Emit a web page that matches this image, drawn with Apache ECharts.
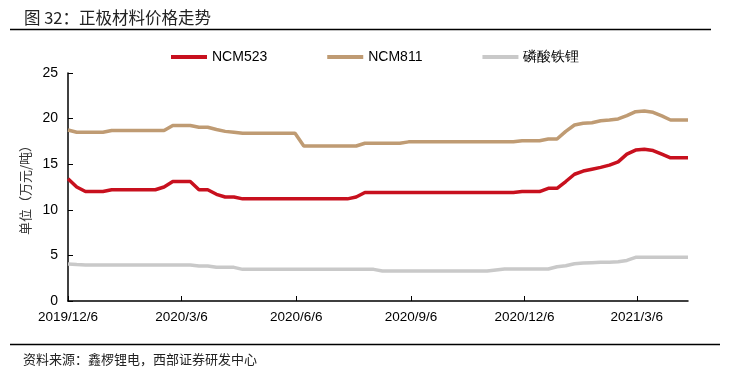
<!DOCTYPE html>
<html><head><meta charset="utf-8">
<script src="https://cdn.jsdelivr.net/npm/echarts@6/dist/echarts.min.js"></script>
<style>html,body{margin:0;padding:0;background:#fff}#c{width:735px;height:374px}</style>
</head><body><div id="c"></div>
<script>
// weekly dates from 2019/12/6, 72 points
const startDate = '2019/12/6';
const weekCount = 72;
const tickLabels = ['2019/12/6','2020/3/6','2020/6/6','2020/9/6','2020/12/6','2021/3/6'];
const seriesNames = ['NCM523','NCM811','磷酸铁锂'];
const ncm523 = [13.4,12.5,12.0,12.0,12.0,12.2,12.2,12.2,12.2,12.2,12.2,12.5,13.1,13.1,13.1,12.2,12.2,11.7,11.4,11.4,
  11.2,11.2,11.2,11.2,11.2,11.2,11.2,11.2,11.2,11.2,11.2,11.2,11.2,11.4,11.9,11.9,11.9,11.9,11.9,11.9,
  11.9,11.9,11.9,11.9,11.9,11.9,11.9,11.9,11.9,11.9,11.9,11.9,12.0,12.0,12.0,12.35,12.35,13.1,13.9,14.25,
  14.45,14.65,14.9,15.25,16.1,16.55,16.65,16.5,16.1,15.7,15.7,15.7];
const ncm811 = [18.75,18.5,18.5,18.5,18.5,18.7,18.7,18.7,18.7,18.7,18.7,18.7,19.25,19.25,19.25,19.05,19.05,18.8,18.6,18.5,
  18.4,18.4,18.4,18.4,18.4,18.4,18.4,17.0,17.0,17.0,17.0,17.0,17.0,17.0,17.3,17.3,17.3,17.3,17.3,17.45,
  17.45,17.45,17.45,17.45,17.45,17.45,17.45,17.45,17.45,17.45,17.45,17.45,17.58,17.58,17.58,17.76,17.76,18.6,19.3,19.48,
  19.55,19.77,19.85,19.96,20.32,20.76,20.83,20.69,20.29,19.85,19.85,19.85];
const lfp = [4.06,4.0,3.95,3.95,3.95,3.95,3.95,3.95,3.95,3.95,3.95,3.95,3.95,3.95,3.95,3.84,3.84,3.69,3.69,3.69,
  3.47,3.47,3.47,3.47,3.47,3.47,3.47,3.47,3.47,3.47,3.47,3.47,3.47,3.47,3.47,3.47,3.29,3.29,3.29,3.29,
  3.29,3.29,3.29,3.29,3.29,3.29,3.29,3.29,3.29,3.4,3.51,3.51,3.51,3.51,3.51,3.51,3.76,3.87,4.09,4.16,
  4.2,4.24,4.26,4.31,4.45,4.79,4.79,4.79,4.79,4.79,4.79,4.79];
const colors = ['#C8101E','#BF9B73','#C9C9C9'];

// x is expressed in days since startDate
const DAY = 86400000;
const t0 = Date.UTC(2019, 11, 6);
const parseDay = s => { const p = s.split('/').map(Number); return Math.round((Date.UTC(p[0], p[1] - 1, p[2]) - t0) / DAY); };
const days = [];
for (let k = 0; k < weekCount; k++) days.push(k * 7);
const toPairs = arr => arr.map((v, i) => [days[i], v]);
const tickValues = tickLabels.map(parseDay);
const fmt = v => { const i = tickValues.indexOf(Math.round(v)); return i >= 0 ? tickLabels[i] : ''; };

const chart = echarts.init(document.getElementById('c'));
const font = 'Liberation Sans, Arial, sans-serif';
const cjk = '"Noto Sans CJK SC", sans-serif';
chart.setOption({
  animation: false,
  backgroundColor: '#fff',
  title: [
    {text: '图 32：正极材料价格走势', left: 19, top: 4, textStyle: {fontFamily: cjk, fontSize: 16.5, fontWeight: 'normal', color: '#222'}},
    {text: '资料来源：鑫椤锂电，西部证券研发中心', left: 18, top: 348, textStyle: {fontFamily: cjk, fontSize: 13, fontWeight: 'normal', color: '#222'}}
  ],
  graphic: [
    {type: 'line', shape: {x1: 10, y1: 29.5, x2: 711, y2: 29.5}, style: {stroke: '#000', lineWidth: 1.5}},
    {type: 'line', shape: {x1: 10, y1: 344.5, x2: 720, y2: 344.5}, style: {stroke: '#000', lineWidth: 1.5}}
  ],
  legend: {
    top: 45, left: 166, itemGap: 60, itemWidth: 36, itemHeight: 4, icon: 'rect',
    textStyle: {fontFamily: font, fontSize: 14, color: '#000'},
    data: seriesNames
  },
  grid: {left: 68, right: 47, top: 73, bottom: 73},
  xAxis: {
    type: 'value', min: days[0], max: days[days.length - 1],
    axisLine: {show: true, onZero: false, lineStyle: {color: '#000', width: 1.5}},
    axisTick: {show: true, inside: true, length: 5, customValues: tickValues, lineStyle: {color: '#000'}},
    axisLabel: {customValues: tickValues, formatter: fmt, fontFamily: font, fontSize: 13.5, color: '#000', margin: 9},
    splitLine: {show: false}
  },
  yAxis: {
    type: 'value', min: 0, max: 25, interval: 5,
    name: '单位（万元/吨）', nameLocation: 'middle', nameGap: 20, nameRotate: 90,
    nameTextStyle: {fontFamily: cjk, fontSize: 13, color: '#333'},
    axisLine: {show: true, lineStyle: {color: '#000', width: 1.5}},
    axisTick: {show: true, inside: true, length: 5, lineStyle: {color: '#000'}},
    axisLabel: {fontFamily: font, fontSize: 14, color: '#000', margin: 10},
    splitLine: {show: false}
  },
  series: [
    {name: seriesNames[0], type: 'line', data: toPairs(ncm523), showSymbol: false, symbol: 'none', lineStyle: {width: 3.5, color: colors[0]}, itemStyle: {color: colors[0]}},
    {name: seriesNames[1], type: 'line', data: toPairs(ncm811), showSymbol: false, symbol: 'none', lineStyle: {width: 3.5, color: colors[1]}, itemStyle: {color: colors[1]}},
    {name: seriesNames[2], type: 'line', data: toPairs(lfp), showSymbol: false, symbol: 'none', lineStyle: {width: 3.5, color: colors[2]}, itemStyle: {color: colors[2]}}
  ]
});
</script></body></html>
